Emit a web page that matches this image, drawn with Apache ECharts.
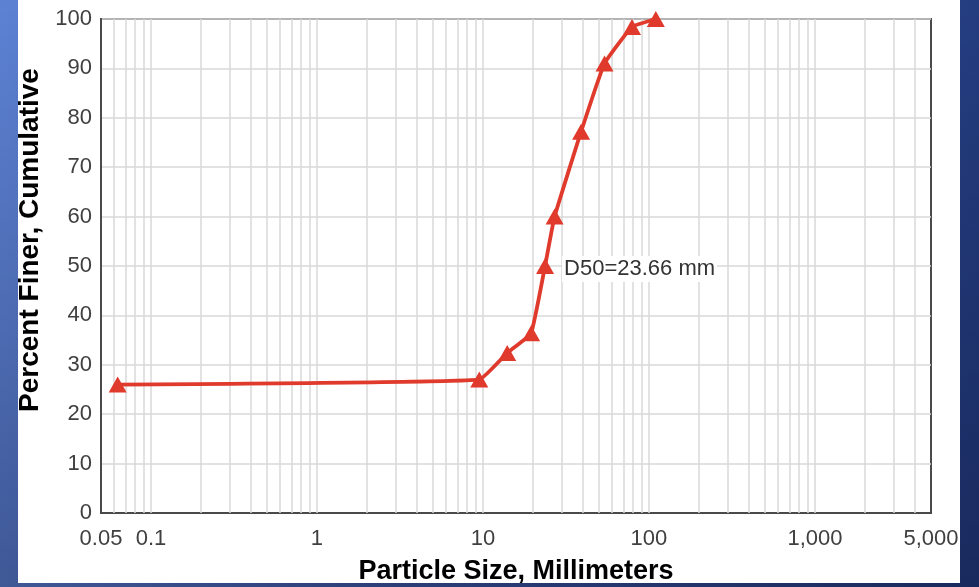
<!DOCTYPE html>
<html>
<head>
<meta charset="utf-8">
<script src="https://cdn.jsdelivr.net/npm/echarts@6/dist/echarts.min.js"></script>
<style>
  html, body { margin: 0; padding: 0; }
  #wrap {
    position: relative; width: 979px; height: 587px; overflow: hidden;
    background:
      linear-gradient(to bottom, rgba(0,0,20,0) 0%, rgba(0,0,20,0.32) 100%),
      linear-gradient(to right, #5d82d4 0%, #3f5ba8 40%, #243d80 100%);
  }
  #chart { position: absolute; left: 18px; top: 0; width: 942px; height: 583px; background: #ffffff; }
</style>
</head>
<body>
<div id="wrap"><div id="chart"></div></div>
<script>
// ---- data ----
var particleSize = [0.063, 9.5, 14, 19.5, 23.66, 27, 39, 54, 79, 110];   // mm
var percentFiner = [26, 27, 32.4, 36.4, 50, 60, 77.2, 91, 98.4, 100];    // %
var d50Label = 'D50=23.66 mm';
var d50Index = 4;
var xTickValues = [0.05, 0.1, 1, 10, 100, 1000, 5000];
var xTickLabels = ['0.05', '0.1', '1', '10', '100', '1,000', '5,000'];
var yTickLabels = ['0', '10', '20', '30', '40', '50', '60', '70', '80', '90', '100'];
var xMin = 0.05, xMax = 5000;

// gridline positions on the log axis (1..9 x each decade inside the range)
var xGridValues = [];
[0.01, 0.1, 1, 10, 100, 1000].forEach(function (d) {
  for (var k = 1; k <= 9; k++) {
    var v = +(k * d).toPrecision(6);
    if (v > xMin * 1.001 && v < xMax * 0.999) xGridValues.push(v);
  }
});

var FONT = '"Liberation Sans", Arial, sans-serif';

var seriesData = particleSize.map(function (x, i) {
  var item = { value: [x, percentFiner[i]] };
  if (i === d50Index) {
    item.label = {
      show: true, position: 'right', distance: 8, offset: [0, 3],
      formatter: d50Label, color: '#333333', fontSize: 22, fontFamily: FONT,
      backgroundColor: '#ffffff', padding: [2, 2, 2, 2]
    };
  }
  return item;
});

var chart = echarts.init(document.getElementById('chart'), null, { renderer: 'canvas' });
chart.setOption({
  animation: false,
  backgroundColor: '#ffffff',
  grid: {
    left: 83, top: 19, width: 830, height: 494,
    outerBoundsMode: 'none', containLabel: false,
    show: true, borderColor: '#4a4a4a', borderWidth: 2, backgroundColor: 'transparent'
  },
  xAxis: {
    type: 'log', logBase: 10, min: xMin, max: xMax,
    name: 'Particle Size, Millimeters', nameLocation: 'middle', nameGap: 45,
    nameTextStyle: { fontSize: 27, fontWeight: 'bold', color: '#000000', fontFamily: FONT },
    axisLine: { show: true, lineStyle: { color: '#4a4a4a', width: 2 } },
    axisTick: { show: false },
    splitLine: { show: false },
    minorTick: { show: false },
    minorSplitLine: { show: false },
    axisLabel: {
      show: true, margin: 15, fontSize: 22, color: '#404040', fontFamily: FONT,
      showMinLabel: true, showMaxLabel: true, hideOverlap: false,
      formatter: function (v) {
        for (var i = 0; i < xTickValues.length; i++) {
          if (Math.abs(Math.log10(v) - Math.log10(xTickValues[i])) < 0.01) return xTickLabels[i];
        }
        return '';
      }
    }
  },
  yAxis: {
    type: 'value', min: 0, max: 100, interval: 10,
    name: 'Percent Finer, Cumulative', nameLocation: 'middle', nameGap: 54,
    nameTextStyle: { fontSize: 28, fontWeight: 'bold', color: '#000000', fontFamily: FONT, padding: [0, 0, 0, 52] },
    axisLine: { show: true, lineStyle: { color: '#4a4a4a', width: 2 } },
    axisTick: { show: false },
    splitLine: { show: true, lineStyle: { color: '#d9d9d9', width: 1.5 } },
    axisLabel: {
      margin: 9, fontSize: 22, color: '#404040', fontFamily: FONT,
      formatter: function (v) { return yTickLabels[Math.round(v / 10)]; }
    }
  },
  series: [
    {
      name: 'gridlines', type: 'line', data: [], silent: true, z: 1,
      markLine: {
        silent: true, symbol: ['none', 'none'], animation: false, z: 1,
        label: { show: false },
        lineStyle: { color: '#d9d9d9', width: 1.5, type: 'solid' },
        emphasis: { disabled: true },
        data: xGridValues.map(function (v) { return { xAxis: v }; })
      }
    },
    {
      name: 'Percent Finer', type: 'line', z: 3,
      data: seriesData,
      smooth: 0.1,
      symbol: 'triangle', symbolSize: [18, 16],
      lineStyle: { color: '#e03a2c', width: 3.8 },
      itemStyle: { color: '#e03a2c' }
    }
  ]
});
</script>
</body>
</html>
